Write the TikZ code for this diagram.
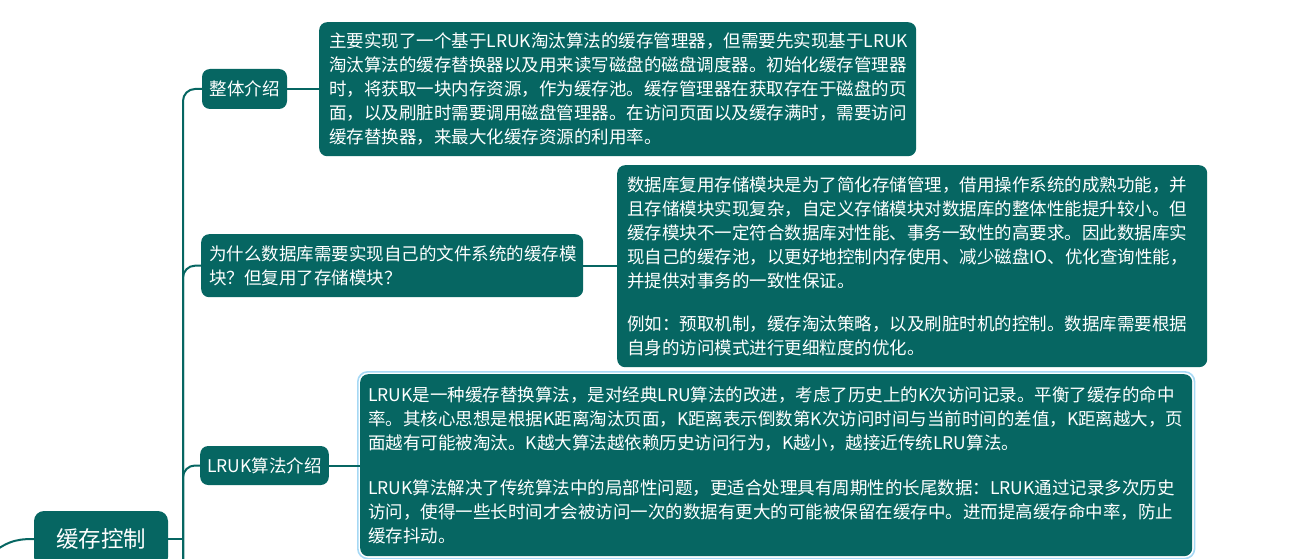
\documentclass[tikz,border=0pt]{standalone}
\usepackage{fontspec}
\setmainfont{Noto Sans CJK SC}
\setlength\parindent{0pt}
\definecolor{mmteal}{HTML}{066662}
\definecolor{selblue}{HTML}{A6D9F5}
\begin{document}
\begin{tikzpicture}[x=1pt,y=-1pt,
  detail/.style={fill=mmteal, text=white, rounded corners=8pt, inner xsep=10pt, inner ysep=0pt,
    align=left, anchor=north west, font=\fontsize{17.5}{24}\selectfont},
  topic/.style={fill=mmteal, text=white, rounded corners=8pt, inner xsep=7pt, inner ysep=0pt,
    font=\fontsize{17.5}{24}\selectfont},
  rootnode/.style={fill=mmteal, text=white, rounded corners=10pt, inner sep=0pt,
    font=\fontsize{22.5}{26}\selectfont},
  link/.style={draw=mmteal, line width=2pt}]
\useasboundingbox (0,0) rectangle (1292,559);

% root
\node[rootnode, minimum width=134pt, minimum height=56pt] (root) at (101,539) {缓存控制};

% topics
\node[topic, minimum width=85pt, minimum height=40pt] (t1) at (244.5,89) {整体介绍};
\node[topic, anchor=north west, align=left, text width=366pt, inner xsep=8pt, minimum height=63pt] (t2) at (201,234)
  {为什么数据库需要实现自己的文件系统的缓存模\\块？但复用了存储模块？};
\node[topic, minimum width=127pt, minimum height=39pt] (t3) at (264.5,465.5) {LRUK算法介绍};

% details
\node[detail, text width=577pt, minimum height=134pt] (d1) at (319,22)
  {主要实现了一个基于LRUK淘汰算法的缓存管理器，但需要先实现基于LRUK\\
   淘汰算法的缓存替换器以及用来读写磁盘的磁盘调度器。初始化缓存管理器\\
   时，将获取一块内存资源，作为缓存池。缓存管理器在获取存在于磁盘的页\\
   面，以及刷脏时需要调用磁盘管理器。在访问页面以及缓存满时，需要访问\\
   缓存替换器，来最大化缓存资源的利用率。};

\node[detail, text width=570pt, minimum height=202pt] (d2) at (617,165)
  {数据库复用存储模块是为了简化存储管理，借用操作系统的成熟功能，并\\
   且存储模块实现复杂，自定义存储模块对数据库的整体性能提升较小。但\\
   缓存模块不一定符合数据库对性能、事务一致性的高要求。因此数据库实\\
   现自己的缓存池，以更好地控制内存使用、减少磁盘IO、优化查询性能，\\
   并提供对事务的一致性保证。\\[19pt]
   例如：预取机制，缓存淘汰策略，以及刷脏时机的控制。数据库需要根据\\
   自身的访问模式进行更细粒度的优化。};

\node[detail, inner xsep=8pt, text width=816pt, minimum height=182pt] (d3) at (360,374)
  {LRUK是一种缓存替换算法，是对经典LRU算法的改进，考虑了历史上的K次访问记录。平衡了缓存的命中\\
   率。其核心思想是根据K距离淘汰页面，K距离表示倒数第K次访问时间与当前时间的差值，K距离越大，页\\
   面越有可能被淘汰。K越大算法越依赖历史访问行为，K越小，越接近传统LRU算法。\\[21pt]
   LRUK算法解决了传统算法中的局部性问题，更适合处理具有周期性的长尾数据：LRUK通过记录多次历史\\
   访问，使得一些长时间才会被访问一次的数据有更大的可能被保留在缓存中。进而提高缓存命中率，防止\\
   缓存抖动。};
\draw[selblue, line width=1.6pt, rounded corners=10pt]
  ([shift={(-2.2pt,2.2pt)}]d3.north west) rectangle ([shift={(2.2pt,-2.2pt)}]d3.south east);

% connectors
\coordinate (trunkbot) at (183,575);
\coordinate (parent) at (-20,563);
\draw[link] (parent) .. controls (5,541) and (15,539) .. (root.west);
\draw[link] (root.east) -- (root.east -| trunkbot);
\draw[link, rounded corners=12pt] (trunkbot) |- (t1.west);
\draw[link, rounded corners=12pt] (trunkbot) |- (t2.west);
\draw[link, rounded corners=12pt] (trunkbot) |- (t3.west);
\draw[link] (t1.east) -- (t1.east -| d1.west);
\draw[link] (t2.east) -- (t2.east -| d2.west);
\draw[link] (t3.east) -- (t3.east -| d3.west);
\end{tikzpicture}
\end{document}
